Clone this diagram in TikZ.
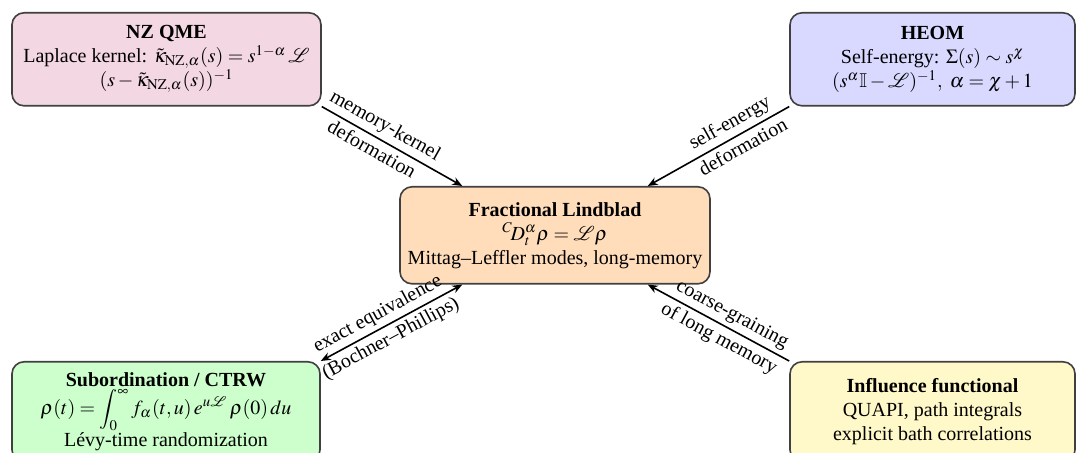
\documentclass[tikz,border=0pt]{standalone}
\usepackage{mathptmx}
\usepackage{amssymb}
\usepackage{mathrsfs}
\usepackage[no-math]{fontspec}
\setmainfont{Liberation Serif}
\usetikzlibrary{arrows.meta}
\definecolor{nzfill}{RGB}{243,215,226}
\definecolor{heomfill}{RGB}{217,217,255}
\definecolor{cenfill}{RGB}{255,221,187}
\definecolor{subfill}{RGB}{204,255,204}
\definecolor{inffill}{RGB}{255,248,200}
\begin{document}
\begin{tikzpicture}[x=0.5pt,y=-0.5pt,
  box/.style={draw=black!75, thick, rounded corners=6pt, align=center, inner sep=2pt, anchor=north},
  conn/.style={thick, -{Stealth[length=5pt,width=4pt]}},
  biconn/.style={thick, {Stealth[length=5pt,width=4pt]}-{Stealth[length=5pt,width=4pt]}},
  lab/.style={sloped, inner sep=2pt}]
\useasboundingbox (0,0) rectangle (1087,453);
\node[box, fill=nzfill, minimum width=154.5pt, minimum height=46.5pt] (nz) at (166.5,12)
  {\textbf{NZ QME}\\ Laplace kernel: $\tilde{\kappa}_{\mathrm{NZ},\alpha}(s)=s^{1-\alpha}\,\mathscr{L}$\\ $(s-\tilde{\kappa}_{\mathrm{NZ},\alpha}(s))^{-1}$};
\node[box, fill=heomfill, minimum width=142.5pt, minimum height=46.5pt] (heom) at (932.5,12)
  {\textbf{HEOM}\\ Self-energy: $\Sigma(s)\sim s^{\chi}$\\ $(s^{\alpha}\mathbb{I}-\mathscr{L})^{-1},\ \alpha=\chi+1$};
\node[box, fill=cenfill, minimum width=155pt, minimum height=48.5pt] (cen) at (555,186)
  {\textbf{Fractional Lindblad}\\ ${}^{C}\!D_t^{\alpha}\rho=\mathscr{L}\rho$\\ Mittag--Leffler modes, long-memory};
\node[box, fill=subfill, minimum width=154pt, minimum height=50pt] (sub) at (166,361)
  {\textbf{Subordination / CTRW}\\ $\displaystyle\rho(t)=\int_0^{\infty} f_{\alpha}(t,u)\,e^{u\mathscr{L}}\,\rho(0)\,du$\\ Lévy-time randomization};
\node[box, fill=inffill, minimum width=142.5pt, minimum height=50pt] (inf) at (932.5,361)
  {\textbf{Influence functional}\\ QUAPI, path integrals\\ explicit bath correlations};
\draw[conn] (nz.south east) -- node[lab, pos=0.40, above] {memory-kernel} node[lab, pos=0.40, below] {deformation} (cen.152);
\draw[conn] (heom.south west) -- node[lab, pos=0.37, above] {self-energy} node[lab, pos=0.37, below] {deformation} (cen.28);
\draw[biconn] (sub.north east) -- node[lab, pos=0.45, above] {exact equivalence} node[lab, pos=0.45, below] {(Bochner--Phillips)} (cen.208);
\draw[conn] (inf.north west) -- node[lab, pos=0.45, above] {coarse-graining} node[lab, pos=0.45, below] {of long memory} (cen.332);
\end{tikzpicture}
\end{document}
